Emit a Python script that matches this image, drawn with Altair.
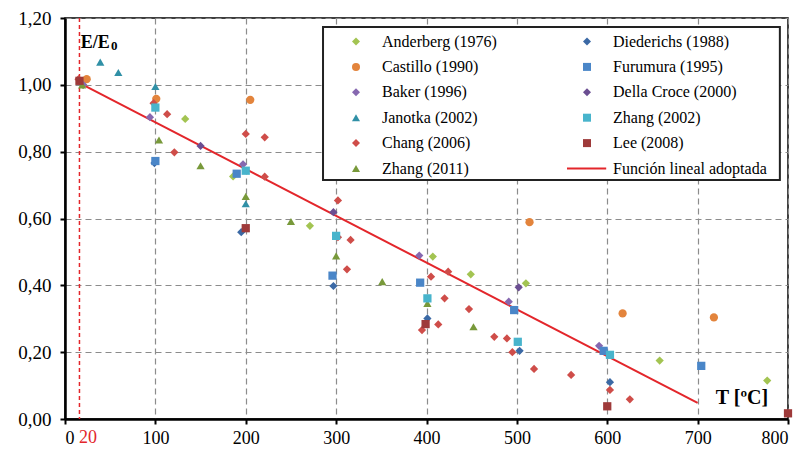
import altair as alt
import pandas as pd

FONT = "Liberation Serif"

# ---------------- data ----------------
line_label = "Función lineal adoptada"
series_names = ["Anderberg (1976)", "Castillo (1990)", "Baker (1996)", "Janotka (2002)",
                "Chang (2006)", "Zhang (2011)", "Diederichs (1988)", "Furumura (1995)",
                "Della Croce (2000)", "Zhang (2002)", "Lee (2008)"]

anderberg_T = [20, 133, 186, 271, 407, 449, 510, 658, 777]
anderberg_E = [1.00, 0.898, 0.726, 0.578, 0.486, 0.433, 0.406, 0.175, 0.115]

diederichs_T = [99, 195, 297, 401, 503, 603]
diederichs_E = [0.766, 0.559, 0.398, 0.301, 0.204, 0.110]

castillo_T = [24, 101, 205, 514, 617, 718]
castillo_E = [1.017, 0.958, 0.955, 0.589, 0.316, 0.304]

furumura_T = [100, 190, 296, 393, 497, 596, 704]
furumura_E = [0.772, 0.734, 0.429, 0.408, 0.326, 0.204, 0.159]

baker_T = [20, 94, 197, 392, 491, 591]
baker_E = [1.00, 0.903, 0.762, 0.489, 0.351, 0.219]

dellacroce_T = [150, 297, 502]
dellacroce_E = [0.817, 0.619, 0.394]

janotka_T = [39, 59, 100, 200]
janotka_E = [1.068, 1.037, 0.995, 0.644]

zhang2002_T = [100, 200, 300, 401, 501, 603]
zhang2002_E = [0.932, 0.743, 0.548, 0.361, 0.231, 0.192]

chang_T = [15, 98, 113, 121, 200, 221, 221, 302, 302, 316, 312, 405, 424, 420, 447,
           395, 413, 475, 489, 495, 519, 560, 603, 625]
chang_E = [1.017, 0.945, 0.912, 0.798, 0.853, 0.843, 0.725, 0.654, 0.544, 0.536, 0.448,
           0.426, 0.441, 0.361, 0.329, 0.266, 0.283, 0.246, 0.241, 0.200, 0.150, 0.132,
           0.087, 0.059]

lee_T = [16, 200, 399, 600, 800]
lee_E = [1.012, 0.571, 0.284, 0.038, 0.017]

zhang2011_T = [19, 104, 150, 200, 250, 300, 351, 401, 452]
zhang2011_E = [1.00, 0.835, 0.758, 0.666, 0.591, 0.488, 0.411, 0.346, 0.276]

line_T = [20, 700]
line_E = [1.00, 0.048]

x_ticks = [0, 100, 200, 300, 400, 500, 600, 700, 800]
y_ticks = [0.0, 0.2, 0.4, 0.6, 0.8, 1.0, 1.2]

# ---------------- styles ----------------
RED = "#E3262B"
series_colors = ["#A3C452", "#E3843C", "#8668B0", "#3090A6", "#CF4D49", "#78993A",
                 "#3B69A5", "#4A86C8", "#6B4E92", "#48B4CC", "#9E3A3A"]
series_shapes = ["diamond", "circle", "diamond", "triangle-up", "diamond", "triangle-up",
                 "diamond", "square", "diamond", "square", "square"]
# legend key for the adopted linear function: a thin horizontal bar
line_key_shape = "M-5.0,-0.25L4.8,-0.25L4.8,0.25L-5.0,0.25Z"

series_data = {
    "Anderberg (1976)": (anderberg_T, anderberg_E),
    "Diederichs (1988)": (diederichs_T, diederichs_E),
    "Castillo (1990)": (castillo_T, castillo_E),
    "Furumura (1995)": (furumura_T, furumura_E),
    "Baker (1996)": (baker_T, baker_E),
    "Della Croce (2000)": (dellacroce_T, dellacroce_E),
    "Janotka (2002)": (janotka_T, janotka_E),
    "Zhang (2002)": (zhang2002_T, zhang2002_E),
    "Chang (2006)": (chang_T, chang_E),
    "Lee (2008)": (lee_T, lee_E),
    "Zhang (2011)": (zhang2011_T, zhang2011_E),
}

rows = []
for name in series_names:
    ts, es = series_data[name]
    for t, e in zip(ts, es):
        rows.append({"T": t, "E": e, "serie": name})
points_df = pd.DataFrame(rows)

line_df = pd.DataFrame({"T": line_T, "E": line_E})

legend_domain = series_names + [line_label]
legend_colors = series_colors + [RED]
legend_shapes = series_shapes + [line_key_shape]

# ---------------- scales / axes ----------------
x_scale = alt.Scale(domain=[0, 800], nice=False, zero=False)
y_scale = alt.Scale(domain=[0, 1.2], nice=False, zero=False)

x_axis = alt.Axis(values=x_ticks, format="d", title=None, grid=True, labelPadding=5)
y_axis = alt.Axis(values=y_ticks, title=None, grid=True, labelPadding=9, labelFontSize=19,
                  labelExpr="replace(format(datum.value, '.2f'), '.', ',')")

X = alt.X("T:Q", scale=x_scale, axis=x_axis)
Y = alt.Y("E:Q", scale=y_scale, axis=y_axis)

# legend frame (white box with dark border)
box_df = pd.DataFrame({"T": [285.5], "T2": [791.0], "E": [0.715], "E2": [1.173]})
box = alt.Chart(box_df).mark_rect(fill="white", stroke="#222222", strokeWidth=2).encode(
    x=X, x2="T2:Q", y=Y, y2="E2:Q")

vline = alt.Chart(pd.DataFrame({"T": [16]})).mark_rule(
    color=RED, strokeDash=[4, 3], strokeWidth=1.5).encode(x=X)

legend_main = alt.Legend(orient="none", legendX=283, legendY=15.5, columns=2, title=None,
                         labelFont=FONT, labelFontSize=16, labelColor="black",
                         symbolSize=64, labelOffset=18, columnPadding=70, rowPadding=9.4,
                         padding=0, symbolStrokeWidth=0)

line = alt.Chart(line_df).mark_line(strokeWidth=2, color=RED).encode(x=X, y=Y)

points = alt.Chart(points_df).mark_point(filled=True, size=68, opacity=1, strokeWidth=0).encode(
    x=X, y=Y,
    color=alt.Color("serie:N", scale=alt.Scale(domain=legend_domain, range=legend_colors),
                    legend=legend_main),
    shape=alt.Shape("serie:N", scale=alt.Scale(domain=legend_domain, range=legend_shapes),
                    legend=legend_main),
)

ee_df = pd.DataFrame({"T": [17.4], "E": [1.109], "txt": ["E/E"]})
ee = alt.Chart(ee_df).mark_text(font=FONT, fontSize=18, fontWeight="bold", align="left",
                                baseline="alphabetic", color="black").encode(x=X, y=Y, text="txt:N")
sub_df = pd.DataFrame({"T": [50.9], "E": [1.103], "txt": ["0"]})
sub = alt.Chart(sub_df).mark_text(font=FONT, fontSize=13, fontWeight="bold", align="left",
                                  baseline="alphabetic", color="black").encode(x=X, y=Y, text="txt:N")
tl_df = pd.DataFrame({"T": [749], "E": [0.045], "txt": ["T [ºC]"]})
tlabel = alt.Chart(tl_df).mark_text(font=FONT, fontSize=20, fontWeight="bold", align="center",
                                    baseline="alphabetic", color="black").encode(x=X, y=Y, text="txt:N")
t20_df = pd.DataFrame({"T": [25.4], "E": [-0.03], "txt": ["20"]})
t20 = alt.Chart(t20_df).mark_text(font=FONT, fontSize=18, align="center",
                                  baseline="top", color=RED).encode(x=X, y=Y, text="txt:N")

chart = alt.layer(box, vline, line, points, ee, sub, tlabel, t20).properties(
    width=723, height=401,
    autosize="none",
    padding={"left": 57, "top": 10, "right": 10, "bottom": 27},
    background="white",
).configure_axis(
    labelFont=FONT, labelFontSize=18, labelColor="black",
    domainColor="black", domainWidth=2.5,
    tickColor="black", tickWidth=2, tickSize=5,
    gridColor="#8c8c8c", gridDash=[6, 4], gridWidth=1.2,
).configure_view(stroke="black", strokeWidth=1.5)

chart.save("out.html", embed_options={"renderer": "svg", "actions": False})
